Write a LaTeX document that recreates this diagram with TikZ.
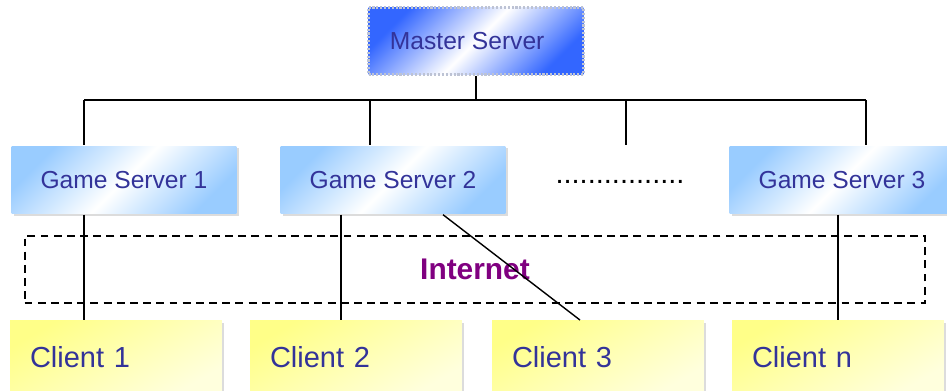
\documentclass[tikz,border=0pt]{standalone}
\usepackage{fontspec}
\setmainfont{Liberation Sans}
\usetikzlibrary{shadows}
\definecolor{boxtext}{HTML}{333399}
\definecolor{masterblue}{HTML}{3366FF}
\definecolor{serverblue}{HTML}{99CCFF}
\definecolor{clientyellow}{HTML}{FFFF88}
\definecolor{clientpale}{HTML}{FFFFDD}
\definecolor{netpurple}{HTML}{800080}
\begin{document}
\begin{tikzpicture}[x=0.02cm,y=-0.02cm,line width=0.8pt,
    box/.style={inner sep=0pt, text=boxtext, font=\fontsize{14}{16}\selectfont},
    boxshadow/.style={drop shadow={shadow xshift=1.2pt, shadow yshift=-1.2pt, fill=gray!55}},
    master/.style={box, minimum width=4.3cm, minimum height=1.34cm,
        top color=masterblue, bottom color=masterblue, middle color=white, shading angle=45,
        draw=masterblue!25!gray!45, densely dotted, line width=1.2pt},
    server/.style={box, boxshadow, minimum width=4.5cm, minimum height=1.36cm,
        top color=serverblue, bottom color=serverblue, middle color=white, shading angle=45},
    client/.style={box, boxshadow, minimum width=4.24cm, minimum height=1.45cm,
        text width=3.44cm, inner xsep=0.4cm, align=left, font=\fontsize{16.5}{19}\selectfont,
        top color=clientyellow, bottom color=clientpale, shading angle=30},
    net/.style={draw, dash pattern=on 4.5pt off 3pt, line width=1.1pt,
        minimum width=18.02cm, minimum height=1.34cm,
        text=netpurple, font=\fontsize{17}{20}\selectfont\bfseries}]
    \useasboundingbox (0,0) rectangle (947,391);

    % servers
    \node[master] (M) at (476,41) {\hspace*{-10pt}Master Server};
    \node[server] (G_1) at (124,180) {Game Server 1};
    \node[server] (G_2) at (393,180) {Game Server 2};
    \node[box, text=black, font=\fontsize{16.5}{19}\selectfont] (G_dots) at (620,182) {................};
    \node[server] (G_3) at (842,180) {Game Server 3};

    % internet cloud and clients
    \node[net] (N) at (475,269.5) {Internet};
    \node[client] (C_1) at (116,357) {Client 1};
    \node[client] (C_2) at (356,357) {Client 2};
    \node[client] (C_3) at (598,357) {Client 3};
    \node[client] (C_n) at (838,357) {Client n};

    % bus taps and link positions
    \coordinate (T_1) at (84,100);
    \coordinate (T_2) at (370,100);
    \coordinate (T_3) at (626,100);
    \coordinate (T_4) at (866,100);
    \coordinate (L_2) at (341,0);
    \coordinate (L_3) at (443,0);
    \coordinate (L_4) at (580,0);
    \coordinate (L_n) at (838,0);

    \draw (M.south) -- (M.south |- T_1);
    \draw (T_1) -- (T_4);
    \foreach \t/\g in {T_1/G_1, T_2/G_2, T_3/G_2, T_4/G_3}
        \draw (\t) -- (\t |- \g.north);

    \draw (T_1 |- G_1.south) -- (T_1 |- C_1.north);
    \draw (L_2 |- G_2.south) -- (L_2 |- C_2.north);
    \draw (L_3 |- G_2.south) -- (L_4 |- C_3.north);
    \draw (L_n |- G_3.south) -- (L_n |- C_n.north);
\end{tikzpicture}
\end{document}
